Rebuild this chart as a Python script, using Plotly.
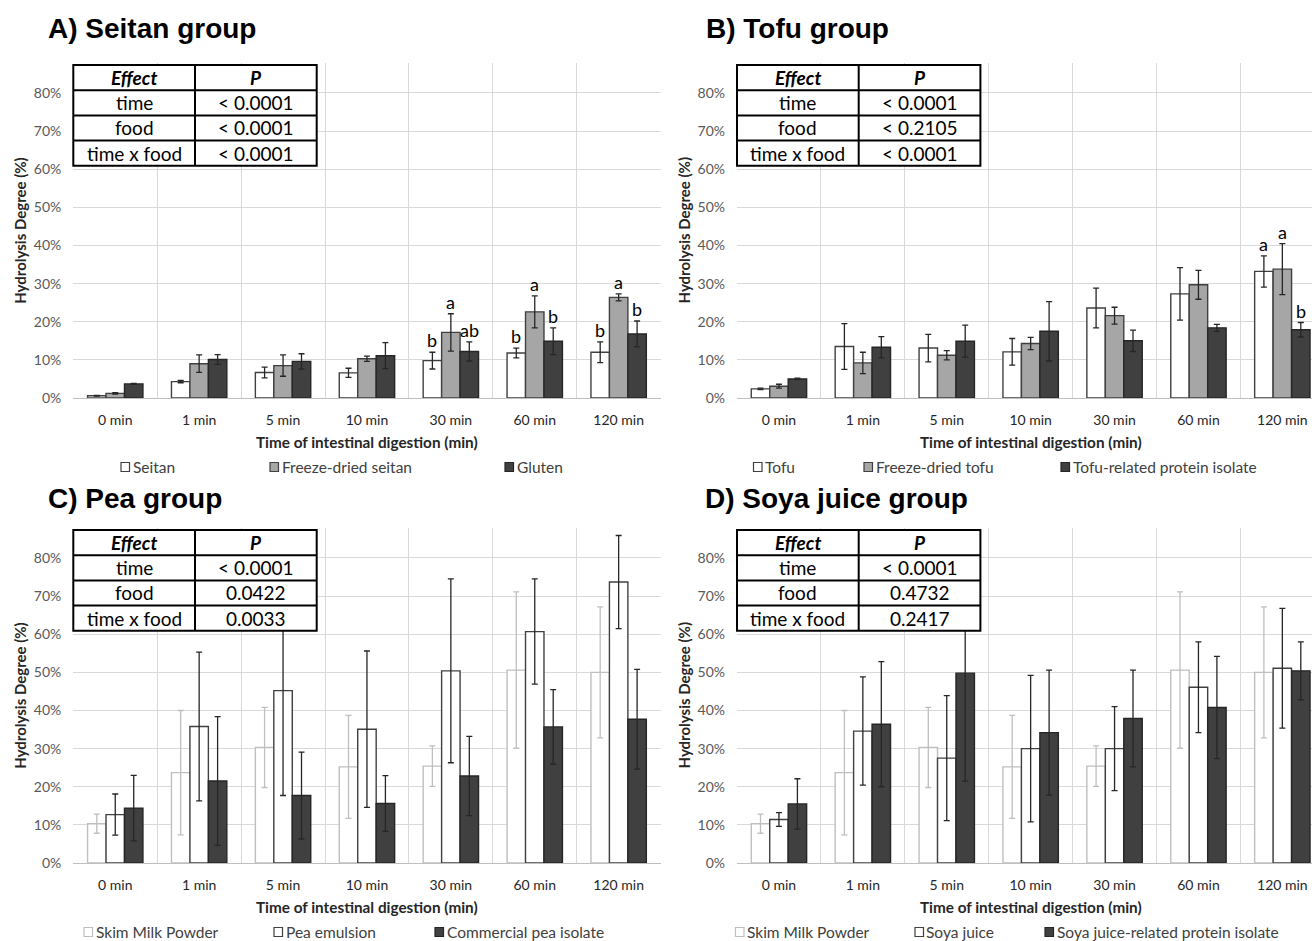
import plotly.graph_objects as go

# ---------------- data ----------------
categories = ["0 min", "1 min", "5 min", "10 min", "30 min", "60 min", "120 min"]

# A) Seitan group (%)
seitan = [0.6, 4.3, 6.7, 6.6, 9.8, 11.8, 12.0]
seitan_err = [0.1, 0.3, 1.4, 1.2, 2.2, 1.3, 2.7]
fd_seitan = [1.2, 9.0, 8.5, 10.3, 17.2, 22.6, 26.4]
fd_seitan_err = [0.2, 2.3, 2.8, 0.7, 4.9, 4.2, 0.9]
gluten = [3.7, 10.1, 9.6, 11.1, 12.2, 14.9, 16.8]
gluten_err = [0.1, 1.3, 2.0, 3.4, 2.5, 3.5, 3.4]
seitan_letters = ["", "", "", "", "b", "b", "b"]
fd_seitan_letters = ["", "", "", "", "a", "a", "a"]
gluten_letters = ["", "", "", "", "ab", "b", "b"]

# B) Tofu group (%)
tofu = [2.4, 13.5, 13.1, 12.1, 23.6, 27.3, 33.2]
tofu_err = [0.2, 6.0, 3.6, 3.5, 5.2, 6.9, 4.1]
fd_tofu = [3.1, 9.2, 11.2, 14.3, 21.6, 29.7, 33.8]
fd_tofu_err = [0.5, 2.8, 1.2, 1.6, 2.2, 3.8, 6.7]
tofu_iso = [5.0, 13.3, 14.9, 17.5, 15.0, 18.4, 17.9]
tofu_iso_err = [0.2, 2.8, 4.2, 7.8, 2.8, 0.9, 1.9]
tofu_letters = ["", "", "", "", "", "", "a"]
fd_tofu_letters = ["", "", "", "", "", "", "a"]
tofu_iso_letters = ["", "", "", "", "", "", "b"]

# Skim milk powder reference (C and D)
smp = [10.3, 23.7, 30.3, 25.2, 25.4, 50.6, 50.0]
smp_err = [2.5, 16.3, 10.5, 13.5, 5.3, 20.5, 17.2]

# C) Pea group (%)
pea_em = [12.7, 35.8, 45.2, 35.1, 50.4, 60.7, 73.7]
pea_em_err = [5.4, 19.5, 27.5, 20.5, 24.1, 13.8, 12.2]
pea_iso = [14.4, 21.5, 17.7, 15.6, 22.8, 35.7, 37.7]
pea_iso_err = [8.6, 16.9, 11.4, 7.3, 10.4, 9.8, 13.1]

# D) Soya juice group (%)
soya = [11.4, 34.6, 27.5, 30.0, 30.0, 46.1, 51.1]
soya_err = [1.8, 14.2, 16.4, 19.2, 11.0, 11.9, 15.7]
soya_iso = [15.5, 36.4, 49.8, 34.2, 37.9, 40.8, 50.4]
soya_iso_err = [6.6, 16.4, 28.3, 16.4, 12.7, 13.4, 7.6]

y_ticks = [0, 10, 20, 30, 40, 50, 60, 70, 80]
y_tick_labels = ["0%", "10%", "20%", "30%", "40%", "50%", "60%", "70%", "80%"]

tables = {
    "A": [("time", "< 0.0001"), ("food", "< 0.0001"), ("time x food", "< 0.0001")],
    "B": [("time", "< 0.0001"), ("food", "< 0.2105"), ("time x food", "< 0.0001")],
    "C": [("time", "< 0.0001"), ("food", "0.0422"), ("time x food", "0.0033")],
    "D": [("time", "< 0.0001"), ("food", "0.4732"), ("time x food", "0.2417")],
}
titles = {"A": "A) Seitan group", "B": "B) Tofu group", "C": "C) Pea group", "D": "D) Soya juice group"}

# ---------------- styles ----------------
W, H = 1312, 941
SY = 0.9915                  # vertical correction observed in the rendered picture
RIGHT_EDGE = W
FONT = "Lato"
WHITE_DARK = dict(fill="white", line="#404040", err="#262626")
GREY = dict(fill="#a6a6a6", line="#404040", err="#262626")
DARK = dict(fill="#404040", line="#262626", err="#262626")
WHITE_LIGHT = dict(fill="white", line="#bfbfbf", err="#bfbfbf")

panels = {
    "A": dict(ax="", left=73.3, top=63, bottom=398, title_x=49, title_y=29,
              series=[("Seitan", seitan, seitan_err, WHITE_DARK, seitan_letters),
                      ("Freeze-dried seitan", fd_seitan, fd_seitan_err, GREY, fd_seitan_letters),
                      ("Gluten", gluten, gluten_err, DARK, gluten_letters)],
              legend_x=[121, 270, 505]),
    "B": dict(ax="2", left=737, top=63, bottom=398, title_x=707, title_y=29,
              series=[("Tofu", tofu, tofu_err, WHITE_DARK, tofu_letters),
                      ("Freeze-dried tofu", fd_tofu, fd_tofu_err, GREY, fd_tofu_letters),
                      ("Tofu-related protein isolate", tofu_iso, tofu_iso_err, DARK, tofu_iso_letters)],
              legend_x=[753.5, 864, 1061]),
    "C": dict(ax="3", left=73.3, top=528, bottom=863, title_x=49, title_y=499,
              series=[("Skim Milk Powder", smp, smp_err, WHITE_LIGHT, None),
                      ("Pea emulsion", pea_em, pea_em_err, WHITE_DARK, None),
                      ("Commercial pea isolate", pea_iso, pea_iso_err, DARK, None)],
              legend_x=[84, 274, 435]),
    "D": dict(ax="4", left=737, top=528, bottom=863, title_x=706, title_y=499,
              series=[("Skim Milk Powder", smp, smp_err, WHITE_LIGHT, None),
                      ("Soya juice", soya, soya_err, WHITE_DARK, None),
                      ("Soya juice-related protein isolate", soya_iso, soya_iso_err, DARK, None)],
              legend_x=[735.5, 915, 1045]),
}

CATW = 83.9
BARGAP = 0.34
BARW = CATW * (1 - BARGAP) / 3
PX_PER_PCT = (398 - 93) / 80.0
YMAX = (398 - 63) / PX_PER_PCT

def fx(px):
    return px / W

def fy(py):
    return 1 - (py / SY) / H

fig = go.Figure()
annotations = []
shapes = []
layout_axes = {}

for key, p in panels.items():
    ax = p["ax"]
    xref = "x" + ax
    yref = "y" + ax
    right_px = p["left"] + 7 * CATW
    if right_px > RIGHT_EDGE:
        x_dom = [fx(p["left"]), 1.0]
        x_range = [-0.5, -0.5 + (RIGHT_EDGE - p["left"]) / CATW]
    else:
        x_dom = [fx(p["left"]), fx(right_px)]
        x_range = [-0.5, 6.5]
    layout_axes["xaxis" + ax] = dict(
        domain=x_dom, anchor=yref, type="category", range=x_range,
        categoryorder="array", categoryarray=categories,
        tickson="boundaries", showgrid=True, gridcolor="#d9d9d9", gridwidth=1,
        ticks="", showline=True, linecolor="#bfbfbf", linewidth=1,
        tickfont=dict(family=FONT, size=14, color="#262626"),
        ticklabelstandoff=9, zeroline=False, fixedrange=True)
    layout_axes["yaxis" + ax] = dict(
        domain=[fy(p["bottom"]), fy(p["top"])], anchor=xref, range=[0, YMAX],
        tickmode="array", tickvals=y_ticks, ticktext=y_tick_labels,
        showgrid=True, gridcolor="#d9d9d9",
        gridwidth=1, zeroline=False, ticks="", showline=False,
        tickfont=dict(family=FONT, size=14, color="#595959"),
        ticklabelstandoff=11, fixedrange=True)

    for si, (name, vals, errs, st, letters) in enumerate(p["series"]):
        fig.add_trace(go.Bar(
            x=categories, y=vals, name=name, xaxis=xref, yaxis=yref,
            marker=dict(color=st["fill"], line=dict(color=st["line"], width=1.4)),
            error_y=dict(type="data", array=errs, color=st["err"], thickness=1.3, width=3),
            showlegend=False, cliponaxis=True, hoverinfo="skip"))
        if letters:
            for i, lab in enumerate(letters):
                if lab:
                    annotations.append(dict(
                        x=categories[i], y=vals[i] + errs[i], xref=xref, yref=yref,
                        xshift=(si - 1) * BARW, yanchor="bottom", yshift=-1,
                        text=lab, showarrow=False,
                        font=dict(family=FONT, size=18, color="#000000")))

    # panel title
    annotations.append(dict(
        x=fx(p["title_x"] - 3), y=fy(p["title_y"]),
        xref="paper", yref="paper", xanchor="left", yanchor="middle",
        text="<b>" + titles[key] + "</b>", showarrow=False,
        font=dict(family="Liberation Sans", size=28, color="#000000")))
    # y axis title
    annotations.append(dict(
        x=fx(p["left"] - 53), y=fy((p["top"] + p["bottom"]) / 2),
        xref="paper", yref="paper", xanchor="center", yanchor="middle",
        text="<b>Hydrolysis Degree (%)</b>", textangle=-90, showarrow=False,
        font=dict(family=FONT, size=15, color="#262626")))
    # x axis title
    annotations.append(dict(
        x=fx(p["left"] + 3.5 * CATW), y=fy(p["bottom"] + 44),
        xref="paper", yref="paper", xanchor="center", yanchor="middle",
        text="<b>Time of intestinal digestion (min)</b>", showarrow=False,
        font=dict(family=FONT, size=15.3, color="#262626")))

    # legend (manual)
    ly = p["bottom"] + 69
    for (name, vals, errs, st, letters), lx in zip(p["series"], p["legend_x"]):
        shapes.append(dict(type="rect", xref="paper", yref="paper",
                           x0=fx(lx), x1=fx(lx + 8.5), y0=fy(ly + 4.5), y1=fy(ly - 4.5),
                           fillcolor=st["fill"], line=dict(color=st["line"], width=1.2)))
        annotations.append(dict(
            x=fx(lx + 9.5), y=fy(ly), xref="paper", yref="paper",
            xanchor="left", yanchor="middle", text=name, showarrow=False,
            font=dict(family=FONT, size=15.5, color="#404040")))

    # statistics table
    t_left = p["left"]
    t_mid = t_left + 121.7
    t_right = t_left + 243.4
    t_top = p["top"] + 2
    row_h = 25.2
    shapes.append(dict(type="rect", xref="paper", yref="paper",
                       x0=fx(t_left), x1=fx(t_right), y0=fy(t_top + 4 * row_h), y1=fy(t_top),
                       fillcolor="white", line=dict(color="#000000", width=2), layer="above"))
    for r in range(1, 4):
        shapes.append(dict(type="line", xref="paper", yref="paper",
                           x0=fx(t_left), x1=fx(t_right), y0=fy(t_top + r * row_h), y1=fy(t_top + r * row_h),
                           line=dict(color="#000000", width=2), layer="above"))
    shapes.append(dict(type="line", xref="paper", yref="paper",
                       x0=fx(t_mid), x1=fx(t_mid), y0=fy(t_top), y1=fy(t_top + 4 * row_h),
                       line=dict(color="#000000", width=2), layer="above"))
    rows = [("<b><i>Effect</i></b>", "<b><i>P</i></b>")] + tables[key]
    for r, (c1, c2) in enumerate(rows):
        cy = fy(t_top + (r + 0.5) * row_h)
        for cx, txt in ((fx((t_left + t_mid) / 2), c1), (fx((t_mid + t_right) / 2), c2)):
            annotations.append(dict(
                x=cx, y=cy, xref="paper", yref="paper", xanchor="center", yanchor="middle",
                text=txt, showarrow=False,
                font=dict(family=FONT, size=19, color="#000000")))

fig.update_layout(
    width=W, height=H, margin=dict(l=0, r=0, t=0, b=0),
    paper_bgcolor="white", plot_bgcolor="white",
    barmode="group", bargap=BARGAP, bargroupgap=0,
    showlegend=False, annotations=annotations, shapes=shapes,
    font=dict(family=FONT), hovermode=False,
    **layout_axes)

fig.write_html(
    "out.html",
    config={"displayModeBar": False},
    post_script="document.body.style.margin='0px';document.body.style.overflow='hidden';")
